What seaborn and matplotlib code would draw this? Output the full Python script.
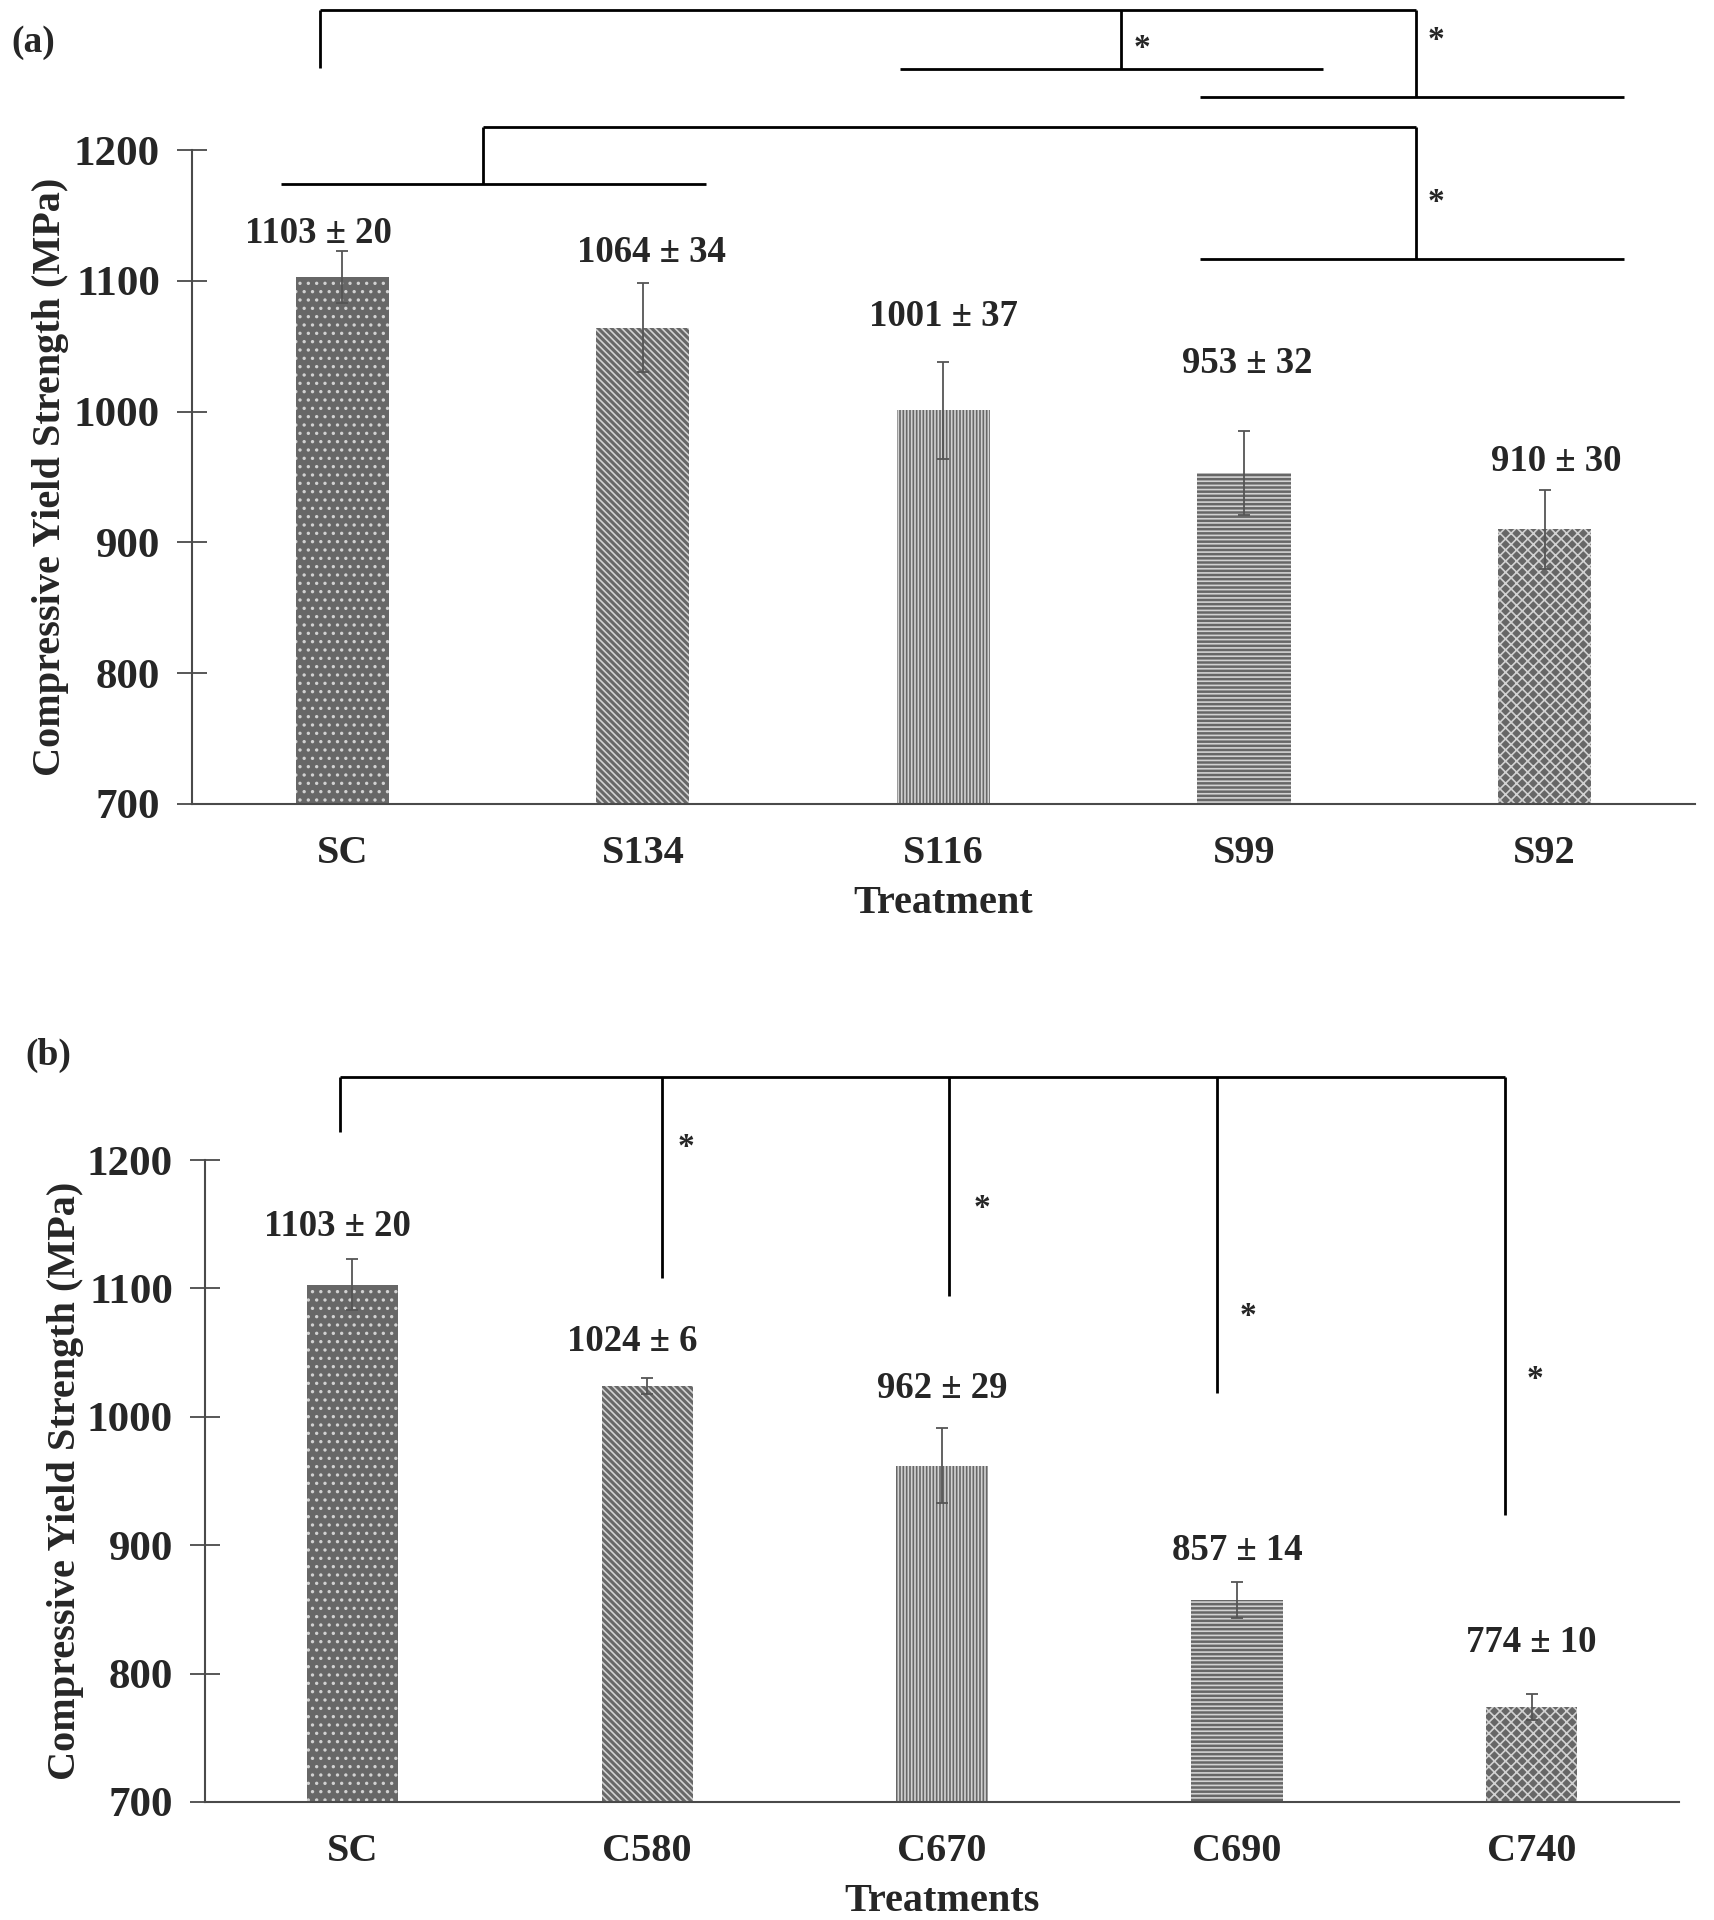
import numpy as np
import matplotlib
matplotlib.use("Agg")
import matplotlib.pyplot as plt
import seaborn as sns

# data
treat_a = ["SC", "S134", "S116", "S99", "S92"]
mean_a = [1103, 1064, 1001, 953, 910]
sd_a = [20, 34, 37, 32, 30]

treat_b = ["SC", "C580", "C670", "C690", "C740"]
mean_b = [1103, 1024, 962, 857, 774]
sd_b = [20, 6, 29, 14, 10]

# layout helpers (label gaps above the error bar, in MPa)
gap_a = [13, 24, 35, 52, 22]
shift_a = [-0.08, 0.03, 0.0, 0.01, 0.04]
gap_b = [25, 29, 31, 25, 40]
shift_b = [-0.05, -0.05, 0.0, 0.0, 0.0]

hatches = ["..", "\\\\\\\\\\", "|||||", "----", "xxx"]

sns.set_style("white")
plt.rcParams["font.family"] = ["Liberation Serif", "DejaVu Serif"]
plt.rcParams["font.weight"] = "bold"
plt.rcParams["hatch.linewidth"] = 1.2

BAR = "#676767"
HATCH = "#d2d2d2"
AX = "#4a4a4a"


def draw_panel(ax, cats, means, sds, gaps, shifts, xlabel):
    sns.barplot(x=cats, y=means, color=BAR, saturation=1, width=0.31,
                errorbar=None, ax=ax)
    for p, h in zip(ax.patches, hatches):
        p.set_hatch(h)
        p.set_edgecolor(HATCH)
        p.set_linewidth(0)
    pos = np.arange(len(cats))
    ax.errorbar(pos, means, yerr=sds, fmt="none", ecolor="#555555",
                elinewidth=1.3, capsize=4, capthick=1.3)
    for i in range(len(cats)):
        ax.text(pos[i] + shifts[i], means[i] + sds[i] + gaps[i],
                f"{means[i]} \u00b1 {sds[i]}", ha="center", va="center",
                fontsize=26.5, fontweight="bold")
    ax.set_ylim(700, 1200)
    ax.set_xlim(-0.5, 4.5)
    ax.set_yticks([700, 800, 900, 1000, 1100, 1200])
    ax.tick_params(axis="y", left=True, direction="inout", length=22,
                   width=1.3, color=AX, pad=12, labelsize=31)
    ax.tick_params(axis="x", bottom=False, length=0, pad=22, labelsize=29)
    for lab in ax.get_xticklabels() + ax.get_yticklabels():
        lab.set_fontweight("bold")
    sns.despine(ax=ax)
    for s in ["left", "bottom"]:
        ax.spines[s].set_color(AX)
        ax.spines[s].set_linewidth(1.5)
    ax.set_ylabel("Compressive Yield Strength (MPa)", fontsize=29,
                  fontweight="bold")
    ax.yaxis.set_label_coords(-0.082, 0.5)
    ax.set_xlabel(xlabel, fontsize=29, fontweight="bold", labelpad=10)


def draw_lines(ax, segs, stars):
    for x0, y0, x1, y1 in segs:
        ax.plot([x0, x1], [y0, y1], color="black", lw=2, clip_on=False,
                solid_capstyle="butt")
    for x, y in stars:
        ax.text(x, y, "*", ha="center", va="center", fontsize=24,
                fontweight="bold", clip_on=False)


fig = plt.figure(figsize=(17.14, 19.2), dpi=100)
ax1 = fig.add_axes([0.1120, 0.58125, 0.8769, 0.3406])
ax2 = fig.add_axes([0.1196, 0.06146, 0.8600, 0.33437])

draw_panel(ax1, treat_a, mean_a, sd_a, gap_a, shift_a, "Treatment")
draw_panel(ax2, treat_b, mean_b, sd_b, gap_b, shift_b, "Treatments")

# significance brackets, panel (a)
segs_a = [
    (-0.073, 1307, 3.573, 1307),
    (-0.073, 1307, -0.073, 1262.6),
    (3.573, 1307, 3.573, 1240.2),
    (2.853, 1240.2, 4.265, 1240.2),
    (2.592, 1307, 2.592, 1261.7),
    (1.856, 1261.7, 3.264, 1261.7),
    (0.468, 1217.8, 3.573, 1217.8),
    (0.468, 1217.8, 0.468, 1173.8),
    (-0.203, 1173.8, 1.209, 1173.8),
    (3.573, 1217.8, 3.573, 1116.8),
    (2.853, 1116.8, 4.265, 1116.8),
]
stars_a = [(3.638, 1284), (2.661, 1278), (3.638, 1160)]
draw_lines(ax1, segs_a, stars_a)

# significance brackets, panel (b)
segs_b = [
    (-0.041, 1264.9, 3.909, 1264.9),
    (-0.041, 1264.9, -0.041, 1222),
    (1.05, 1264.9, 1.05, 1108.4),
    (2.025, 1264.9, 2.025, 1094),
    (2.934, 1264.9, 2.934, 1018.7),
    (3.909, 1264.9, 3.909, 923.3),
]
stars_b = [(1.133, 1210), (2.137, 1162), (3.037, 1078), (4.012, 1029)]
draw_lines(ax2, segs_b, stars_b)

fig.text(11 / 1714, 1 - 43 / 1920, "(a)", fontsize=27, fontweight="bold",
         ha="left", va="center")
fig.text(25 / 1714, 1 - 1055 / 1920, "(b)", fontsize=27, fontweight="bold",
         ha="left", va="center")

fig.savefig("out.png", dpi=100, facecolor="white")
